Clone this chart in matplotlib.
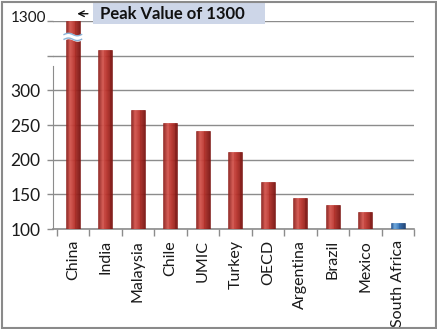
import numpy as np
import matplotlib
matplotlib.use("Agg")
import matplotlib.pyplot as plt
import matplotlib.colors as mcolors
from matplotlib.patches import Rectangle
from matplotlib.transforms import blended_transform_factory

# Data
countries = ["China", "India", "Malaysia", "Chile", "UMIC", "Turkey",
             "OECD", "Argentina", "Brazil", "Mexico", "South Africa"]
values = [1300, 358, 271, 253, 242, 211, 168, 145, 135, 124, 108]
highlighted = ["South Africa"]
ytick_values = [100, 150, 200, 250, 300, 350, 1300]
ytick_labels = ["100", "150", "200", "250", "300", "", ""]
peak_value = 1300
peak_text = "Peak Value of 1300"

# Broken axis: linear up to 370, then 370..1300 squeezed into the last 30 units
BREAK_LO, BREAK_HI, BREAK_SPAN = 370.0, 1300.0, 30.0


def fwd(v):
    v = np.asarray(v, dtype=float)
    return np.where(v <= BREAK_LO, v,
                    BREAK_LO + (v - BREAK_LO) * BREAK_SPAN / (BREAK_HI - BREAK_LO))


def inv(u):
    u = np.asarray(u, dtype=float)
    return np.where(u <= BREAK_LO, u,
                    BREAK_LO + (u - BREAK_LO) * (BREAK_HI - BREAK_LO) / BREAK_SPAN)


plt.rcParams["font.family"] = ["Lato", "DejaVu Sans"]

W, H = 437, 329
fig = plt.figure(figsize=(W / 100, H / 100), dpi=100)
ax = fig.add_axes([53 / W, 1 - 229 / H, 361 / W, 208 / H])
ax.set_yscale("function", functions=(fwd, inv))

# Cylinder-like shading profiles
red_cmap = mcolors.LinearSegmentedColormap.from_list(
    "redcyl", [(0.0, "#8a1f1c"), (0.3, "#d4574f"), (0.6, "#b8322b"), (1.0, "#7a1512")])
blue_cmap = mcolors.LinearSegmentedColormap.from_list(
    "bluecyl", [(0.0, "#1f4e8c"), (0.3, "#6aa6dc"), (0.6, "#2f6db3"), (1.0, "#1b3f70")])

x = np.arange(len(countries))
bar_w = 0.42
n_strips = 16
base = 100
for xi, name, v in zip(x, countries, values):
    cmap = blue_cmap if name in highlighted else red_cmap
    for k in range(n_strips):
        t = (k + 0.5) / n_strips
        c = cmap(t)
        ax.bar(xi - bar_w / 2 + (k + 0.5) * bar_w / n_strips, v - base, bottom=base,
               width=bar_w / n_strips, color=c, edgecolor=c, linewidth=0.4, zorder=3)

ax.set_xlim(-0.61, len(countries) - 0.5)
ax.set_ylim(100, 1300)

# Gridlines
ax.set_yticks(ytick_values)
ax.set_yticklabels(ytick_labels)
ax.yaxis.grid(True, color="#8c8c8c", linewidth=1.0, zorder=0)
ax.set_axisbelow(True)
ax.tick_params(axis="y", length=4, width=1, color="#8c8c8c", pad=5, labelsize=12.5,
               labelcolor="#1a1a1a")
# Label for the top (broken) tick
ax.text(-0.019, 1.014, str(peak_value), transform=ax.transAxes, ha="right",
        va="center", fontsize=11, color="#1a1a1a")

# Category labels with separator ticks
ax.set_xticks(x)
ax.set_xticklabels(countries, rotation=90, fontsize=11.5, color="#1a1a1a")
ax.tick_params(axis="x", which="major", length=0, pad=8)
ax.set_xticks(np.arange(-0.5, len(countries), 1.0), minor=True)
ax.tick_params(axis="x", which="minor", length=5, width=1, color="#8c8c8c")

for s in ["top", "right"]:
    ax.spines[s].set_visible(False)
ax.spines["left"].set_color("#8c8c8c")
ax.spines["left"].set_bounds(100, 335)
ax.spines["bottom"].set_color("#8c8c8c")
ax.spines["bottom"].set_linewidth(1.2)

# Break marker on the tallest bar
tr = blended_transform_factory(ax.transData, ax.transAxes)
xs = np.linspace(-0.27, 0.27, 40)
wave = 0.006 * np.sin((xs + 0.27) / 0.54 * 2 * np.pi)
ax.fill_between(xs, 0.912 + wave, 0.935 + wave, transform=tr, color="white", zorder=5)
ax.plot(xs, 0.912 + wave, transform=tr, color="#8ab4d8", lw=1.0, zorder=6)
ax.plot(xs, 0.935 + wave, transform=tr, color="#8ab4d8", lw=1.0, zorder=6)

# Peak annotation
fig.patches.append(Rectangle((93 / W, 1 - 24 / H), 172 / W, 21 / H,
                             transform=fig.transFigure, facecolor="#cdd6e8",
                             edgecolor="none", zorder=1))
fig.text(100 / W, 1 - 14 / H, peak_text, fontsize=12, fontweight="bold",
         va="center", ha="left", color="#111111")
ax.annotate("", xy=(0.05, 1.035), xycoords=tr,
            xytext=(0.55, 1.035), textcoords=tr,
            arrowprops=dict(arrowstyle="->", color="#111111", lw=1.0),
            annotation_clip=False)

# Outer frame
fig.patches.append(Rectangle((1.5 / W, 1.5 / H), 1 - 3 / W, 1 - 3 / H,
                             transform=fig.transFigure, fill=False,
                             edgecolor="#8a8a8a", linewidth=1.5))

fig.savefig("out.png", dpi=100)
